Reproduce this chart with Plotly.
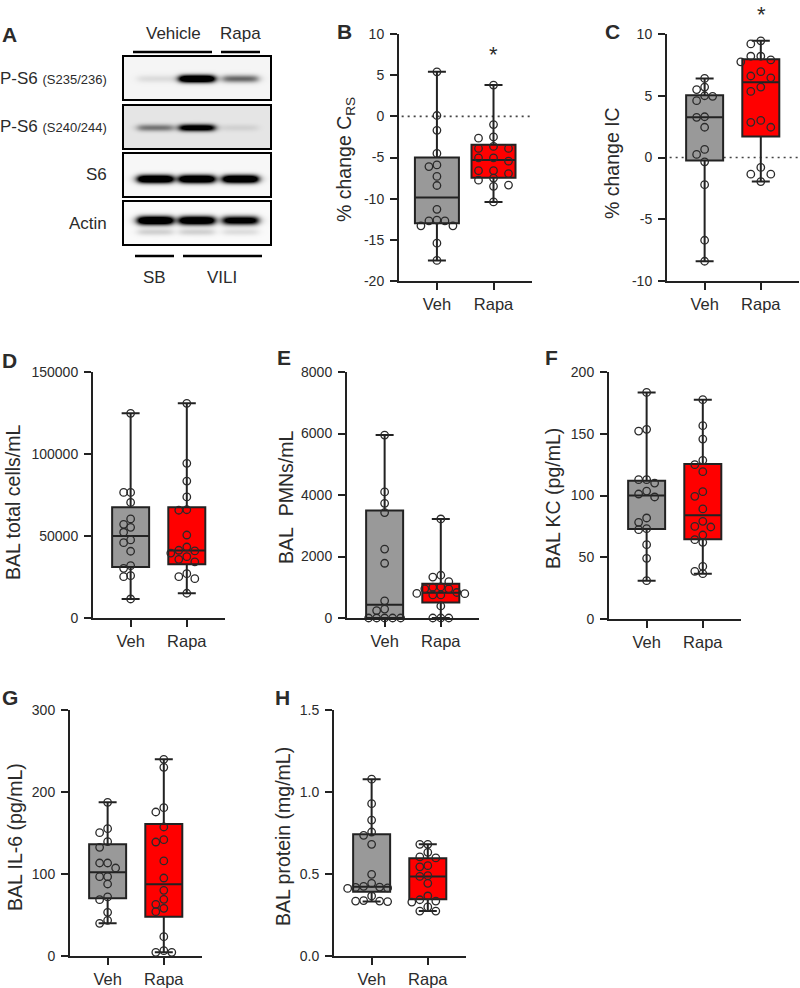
import numpy as np
import plotly.graph_objects as go

W, H = 800, 988
FONT = "Liberation Sans, Arial, Helvetica, sans-serif"
INK = "#222222"
TXT = "#2b2b2b"
GRAY_FILL = "#999999"
RED_FILL = "#ff0000"

groups = ["Veh", "Rapa"]

# ---------------- Panel A: western blot band intensities (lanes: SB-Veh, VILI-Veh, VILI-Rapa)
blot_labels = ["P-S6", "P-S6", "S6", "Actin"]
blot_sites = ["(S235/236)", "(S240/244)", "", ""]
band_ps6_235 = [0.06, 1.00, 0.35]
band_ps6_240 = [0.28, 0.75, 0.05]
band_s6 = [1.00, 1.00, 1.00]
band_actin = [1.00, 0.95, 0.80]
band_actin_lower = [0.10, 0.10, 0.07]
blot_bg = [0.04, 0.10, 0.03, 0.02]
treatment_labels = ["Vehicle", "Rapa"]
condition_labels = ["SB", "VILI"]

# ---------------- Panel B: % change Crs
crs_veh = [5.4, 0.1, -1.7, -4.5, -5.9, -6.1, -7.3, -8.4, -11.3, -12.6, -12.7, -12.7,
           -13.3, -13.3, -15.4, -17.5]
crs_rapa = [3.8, -1.0, -2.5, -2.65, -3.65, -3.9, -3.9, -5.05, -5.05, -5.45, -6.6, -6.6,
            -6.95, -7.5, -7.75, -8.35, -8.5, -10.4]
crs_box_veh = [-17.5, -13.0, -9.85, -5.0, 5.4]      # min, q1, median, q3, max
crs_box_rapa = [-10.4, -7.45, -5.3, -3.45, 3.8]
crs_ticks = [-20, -15, -10, -5, 0, 5, 10]
crs_ticklabels = ["-20", "-15", "-10", "-5", "0", "5", "10"]

# ---------------- Panel C: % change IC
ic_veh = [6.4, 5.7, 5.5, 5.0, 4.95, 4.6, 3.3, 3.25, 2.45, 0.65, 0.25, -0.35, -2.2, -6.7, -8.4]
ic_rapa = [9.45, 9.2, 8.2, 8.2, 7.9, 7.75, 6.95, 6.6, 6.45, 5.7, 5.35, 3.0, 2.85, 2.45,
           -0.8, -1.35, -1.35, -1.95]
ic_box_veh = [-8.4, -0.25, 3.25, 5.05, 6.4]
ic_box_rapa = [-1.95, 1.7, 6.1, 7.95, 9.45]
ic_ticks = [-10, -5, 0, 5, 10]
ic_ticklabels = ["-10", "-5", "0", "5", "10"]

# ---------------- Panel D: BAL total cells/mL
cells_veh = [124800, 76600, 76600, 70500, 60400, 57100, 55300, 52300, 47600, 45900, 40700,
             31900, 30300, 25800, 25200, 11600]
cells_rapa = [130900, 94300, 83500, 73800, 66000, 65700, 50600, 43300, 41300, 40900, 39600,
              37400, 35800, 34200, 27000, 25200, 24000, 15100]
cells_box_veh = [11600, 31100, 50000, 67500, 124800]
cells_box_rapa = [15100, 32700, 41200, 67500, 130900]
cells_ticks = [0, 50000, 100000, 150000]
cells_ticklabels = ["0", "50000", "100000", "150000"]

# ---------------- Panel E: BAL PMNs/mL
pmn_veh = [5950, 4100, 3730, 3430, 2240, 1780, 560, 290, 240, 0, 0, 0, 0, 0]
pmn_rapa = [3220, 1390, 1330, 1180, 1010, 1000, 950, 950, 830, 800, 790, 750, 750, 390, 0, 0, 0]
pmn_box_veh = [0, 0, 430, 3500, 5950]
pmn_box_rapa = [0, 500, 820, 1110, 3220]
pmn_ticks = [0, 2000, 4000, 6000, 8000]
pmn_ticklabels = ["0", "2000", "4000", "6000", "8000"]

# ---------------- Panel F: BAL KC (pg/mL)
kc_veh = [183.5, 153.6, 152.2, 112.8, 112.8, 110.1, 103.6, 101.2, 98.8, 81.8, 78.3, 73.1,
          72.3, 60.2, 49.1, 31.0]
kc_rapa = [177.6, 156.5, 145.7, 128.5, 125.0, 119.3, 103.1, 99.3, 89.1, 79.1, 75.0, 74.5,
           68.0, 64.2, 62.1, 42.6, 38.6, 36.7]
kc_box_veh = [31.0, 72.9, 100.0, 112.0, 183.5]
kc_box_rapa = [36.7, 64.5, 84.0, 125.5, 177.6]
kc_ticks = [0, 50, 100, 150, 200]
kc_ticklabels = ["0", "50", "100", "150", "200"]

# ---------------- Panel G: BAL IL-6 (pg/mL)
il6_veh = [187.4, 155.3, 150.4, 139.4, 132.5, 113.4, 113.4, 107.3, 96.7, 96.7, 87.8, 72.0,
           68.7, 53.3, 43.5, 39.9]
il6_rapa = [239.8, 230.1, 180.9, 175.6, 157.3, 141.8, 139.0, 115.9, 95.1, 80.1, 69.1, 63.0,
            58.1, 54.0, 23.6, 6.5, 4.5, 4.5]
il6_box_veh = [39.9, 70.3, 102.0, 136.2, 187.4]
il6_box_rapa = [4.5, 48.0, 87.5, 161.0, 239.8]
il6_ticks = [0, 100, 200, 300]
il6_ticklabels = ["0", "100", "200", "300"]

# ---------------- Panel H: BAL protein (mg/mL)
prot_veh = [1.078, 0.929, 0.829, 0.756, 0.736, 0.681, 0.498, 0.443, 0.425, 0.420, 0.418,
            0.415, 0.412, 0.366, 0.338, 0.335, 0.335, 0.332]
prot_rapa = [0.681, 0.681, 0.632, 0.604, 0.598, 0.551, 0.544, 0.490, 0.485, 0.443, 0.366,
             0.343, 0.335, 0.329, 0.299, 0.274, 0.274]
prot_box_veh = [0.332, 0.392, 0.423, 0.742, 1.078]
prot_box_rapa = [0.274, 0.346, 0.484, 0.596, 0.681]
prot_ticks = [0.0, 0.5, 1.0, 1.5]
prot_ticklabels = ["0.0", "0.5", "1.0", "1.5"]


# =====================================================================
def ax_names(i):
    s = "" if i == 1 else str(i)
    return "xaxis" + s, "yaxis" + s, "x" + s, "y" + s


def swarm(vals, y0, y1, ypx, step_px, unit_px, d=7.0):
    vals = np.asarray(vals, dtype=float)
    order = np.argsort(-vals, kind="stable")
    placed = []
    offs = np.zeros(len(vals))
    cands = [0]
    for m in range(1, 10):
        cands += [-m, m]
    for i in order:
        yp = (vals[i] - y0) / (y1 - y0) * ypx
        xp = 0.0
        for c in cands:
            xp = c * step_px
            if all((xp - a) ** 2 + (yp - b) ** 2 >= d * d for a, b in placed):
                break
        placed.append((xp, yp))
        offs[i] = xp / unit_px
    return offs


traces = []
annotations = []
shapes = []
layout = dict(width=W, height=H, margin=dict(l=0, r=0, t=0, b=0, autoexpand=False),
              paper_bgcolor="white", plot_bgcolor="rgba(0,0,0,0)",
              showlegend=False, font=dict(family=FONT, color=TXT), boxmode="overlay")


def ann(text, x, y, size, xanchor="center", yanchor="middle", angle=0):
    annotations.append(dict(text=text, x=x / W, y=1 - y / H, xref="paper", yref="paper",
                            showarrow=False, xanchor=xanchor, yanchor=yanchor,
                            textangle=angle, font=dict(size=size, family=FONT, color=TXT)))


def hline(x0, x1, y, w=2.6):
    shapes.append(dict(type="line", xref="paper", yref="paper", x0=x0 / W, x1=x1 / W,
                       y0=1 - y / H, y1=1 - y / H, line=dict(color="black", width=w)))


# ---------------- Panel A (blot)
xs = np.linspace(0, 3, 146)
ys = np.linspace(0, 1, 42)
X, Y = np.meshgrid(xs, ys)
lane_c = [0.64, 1.50, 2.40]


def band_image(ints, yc, sig, bg):
    z = np.full_like(X, bg)
    for c, a in zip(lane_c, ints):
        hprof = 1.0 / (1.0 + np.exp((np.abs(X - c) - 0.36) / 0.05))
        vprof = np.exp(-0.5 * ((Y - yc) / sig) ** 2)
        z = z + a * 1.6 * hprof * vprof
    return z


blot_py = [(57, 99), (106, 148), (154, 196), (202, 244)]
band_sets = [band_ps6_235, band_ps6_240, band_s6, band_actin]
band_y = [0.48, 0.48, 0.40, 0.56]
band_sig = [0.065, 0.06, 0.07, 0.075]
for r in range(4):
    i = r + 1
    xa, ya, xr, yr = ax_names(i)
    z = band_image(band_sets[r], band_y[r], band_sig[r], blot_bg[r])
    if r == 3:
        z = z + band_image(band_actin_lower, 0.28, 0.06, 0.0)
    z = np.clip(z, 0, 1)
    traces.append(go.Heatmap(z=z, x=xs, y=ys, zmin=0, zmax=1,
                             colorscale=[[0, "#ffffff"], [1, "#000000"]], showscale=False,
                             xaxis=xr, yaxis=yr, hoverinfo="skip"))
    py0, py1 = blot_py[r]
    layout[xa] = dict(domain=[124 / W, 270 / W], range=[0, 3], showline=True, mirror=True,
                      linecolor="black", linewidth=2, showticklabels=False, ticks="",
                      showgrid=False, zeroline=False, anchor=yr, fixedrange=True)
    layout[ya] = dict(domain=[1 - py1 / H, 1 - py0 / H], range=[0, 1], showline=True,
                      mirror=True, linecolor="black", linewidth=2, showticklabels=False,
                      ticks="", showgrid=False, zeroline=False, anchor=xr, fixedrange=True)
    lab = blot_labels[r]
    if blot_sites[r]:
        lab = f"{lab} <span style='font-size:13px'>{blot_sites[r]}</span>"
    ann(lab, 109, (py0 + py1) / 2, 17, xanchor="right")

ann("<b>A</b>", 0, 34, 21, xanchor="left")
ann(treatment_labels[0], 173, 33, 17)
ann(treatment_labels[1], 240, 33, 17)
hline(133, 212, 52)
hline(221, 260, 52)
hline(135, 174, 256)
hline(183, 262, 256)
ann(condition_labels[0], 154, 277, 17)
ann(condition_labels[1], 222, 277, 17)

# ---------------- Box panels
XR = (-0.67, 1.68)
panels = [
    dict(letter="B", lxy=(335, 31), veh=crs_veh, rapa=crs_rapa, bveh=crs_box_veh,
         brapa=crs_box_rapa, yr=(-20, 10), tv=crs_ticks, tt=crs_ticklabels,
         title="% change C<sub>RS</sub>", txy=(346, 160), px=(399, 532), py=(34, 281),
         bw=44, step=(8, 15), star=(493, 54, "middle"), ref0=True),
    dict(letter="C", lxy=(603, 32), veh=ic_veh, rapa=ic_rapa, bveh=ic_box_veh,
         brapa=ic_box_rapa, yr=(-10, 10), tv=ic_ticks, tt=ic_ticklabels,
         title="% change IC", txy=(612, 163), px=(667, 799), py=(34, 281),
         bw=37, step=(8, 10), star=(761, 0, "top"), ref0=True),
    dict(letter="D", lxy=(0, 360), veh=cells_veh, rapa=cells_rapa, bveh=cells_box_veh,
         brapa=cells_box_rapa, yr=(0, 150000), tv=cells_ticks, tt=cells_ticklabels,
         title="BAL total cells/mL", txy=(13, 503), px=(93, 225), py=(372, 618),
         bw=37, step=(7, 8), star=None, ref0=False),
    dict(letter="E", lxy=(275, 357), veh=pmn_veh, rapa=pmn_rapa, bveh=pmn_box_veh,
         brapa=pmn_box_rapa, yr=(0, 8000), tv=pmn_ticks, tt=pmn_ticklabels,
         title="BAL\u00a0 PMNs/mL", txy=(286, 498), px=(347, 479), py=(372, 618),
         bw=37, step=(8, 8), star=None, ref0=False),
    dict(letter="F", lxy=(543, 357), veh=kc_veh, rapa=kc_rapa, bveh=kc_box_veh,
         brapa=kc_box_rapa, yr=(0, 200), tv=kc_ticks, tt=kc_ticklabels,
         title="BAL KC (pg/mL)", txy=(553, 499), px=(609, 741), py=(372, 619),
         bw=37, step=(8, 8), star=None, ref0=False),
    dict(letter="G", lxy=(0, 697), veh=il6_veh, rapa=il6_rapa, bveh=il6_box_veh,
         brapa=il6_box_rapa, yr=(0, 300), tv=il6_ticks, tt=il6_ticklabels,
         title="BAL IL-6 (pg/mL)", txy=(15, 837), px=(70, 202), py=(710, 956),
         bw=37, step=(8, 8), star=None, ref0=False),
    dict(letter="H", lxy=(273, 697), veh=prot_veh, rapa=prot_rapa, bveh=prot_box_veh,
         brapa=prot_box_rapa, yr=(0, 1.5), tv=prot_ticks, tt=prot_ticklabels,
         title="BAL protein (mg/mL)", txy=(283, 837), px=(334, 466), py=(710, 956),
         bw=37, step=(8, 8), star=None, ref0=False),
]

for k, p in enumerate(panels):
    i = 5 + k
    xa, ya, xr, yr = ax_names(i)
    px0, px1 = p["px"]
    py0, py1 = p["py"]
    unit = (px1 - px0) / (XR[1] - XR[0])
    ypx = py1 - py0
    y0, y1 = p["yr"]
    bw = p["bw"] / unit
    for g, (vals, stats, fill, step) in enumerate([
            (p["veh"], p["bveh"], GRAY_FILL, p["step"][0]),
            (p["rapa"], p["brapa"], RED_FILL, p["step"][1])]):
        traces.append(go.Box(x=[g], lowerfence=[stats[0]], q1=[stats[1]], median=[stats[2]],
                             q3=[stats[3]], upperfence=[stats[4]], orientation="v",
                             fillcolor=fill, line=dict(color=INK, width=2),
                             whiskerwidth=min(1.0, 18.0 / p["bw"]), width=bw,
                             boxpoints=False, xaxis=xr, yaxis=yr, hoverinfo="skip"))
        offs = swarm(vals, y0, y1, ypx, step, unit)
        traces.append(go.Scatter(x=g + offs, y=vals, mode="markers",
                                 marker=dict(symbol="circle-open", size=7.5, color="#2a2a2a",
                                             line=dict(width=1.3, color="#2a2a2a")),
                                 xaxis=xr, yaxis=yr, hoverinfo="skip", cliponaxis=False))
    layout[xa] = dict(domain=[px0 / W, px1 / W], range=list(XR), tickvals=[0, 1],
                      ticktext=groups, showline=True, linewidth=2, linecolor=INK,
                      ticks="outside", ticklen=7, tickwidth=2, tickcolor=INK,
                      showgrid=False, zeroline=False, anchor=yr, fixedrange=True,
                      tickfont=dict(size=16.5, family=FONT, color=TXT))
    layout[ya] = dict(domain=[1 - py1 / H, 1 - py0 / H], range=[y0, y1], tickvals=p["tv"],
                      ticktext=p["tt"], showline=True, linewidth=2, linecolor=INK,
                      ticks="outside", ticklen=7, tickwidth=2, tickcolor=INK,
                      ticklabelstandoff=3,
                      showgrid=False, zeroline=False, anchor=xr, fixedrange=True,
                      tickfont=dict(size=14, family=FONT, color=TXT))
    if p["ref0"]:
        shapes.append(dict(type="line", xref=f"{xr} domain", yref=yr, x0=0.02, x1=1,
                           y0=0, y1=0, layer="below",
                           line=dict(color="#444444", width=1.6, dash="2px,4px")))
    ann(f"<b>{p['letter']}</b>", p["lxy"][0], p["lxy"][1], 21, xanchor="left")
    ann(p["title"], p["txy"][0], p["txy"][1], 19.5, angle=-90)
    if p["star"]:
        sx, sy, anc = p["star"]
        ann("*", sx, sy, 22, yanchor=anc)

layout["annotations"] = annotations
layout["shapes"] = shapes

fig = go.Figure(data=traces, layout=layout)
fig.write_html("out.html", config={"displayModeBar": False},
               post_script="document.body.style.margin='0';document.body.style.overflow='hidden';")
